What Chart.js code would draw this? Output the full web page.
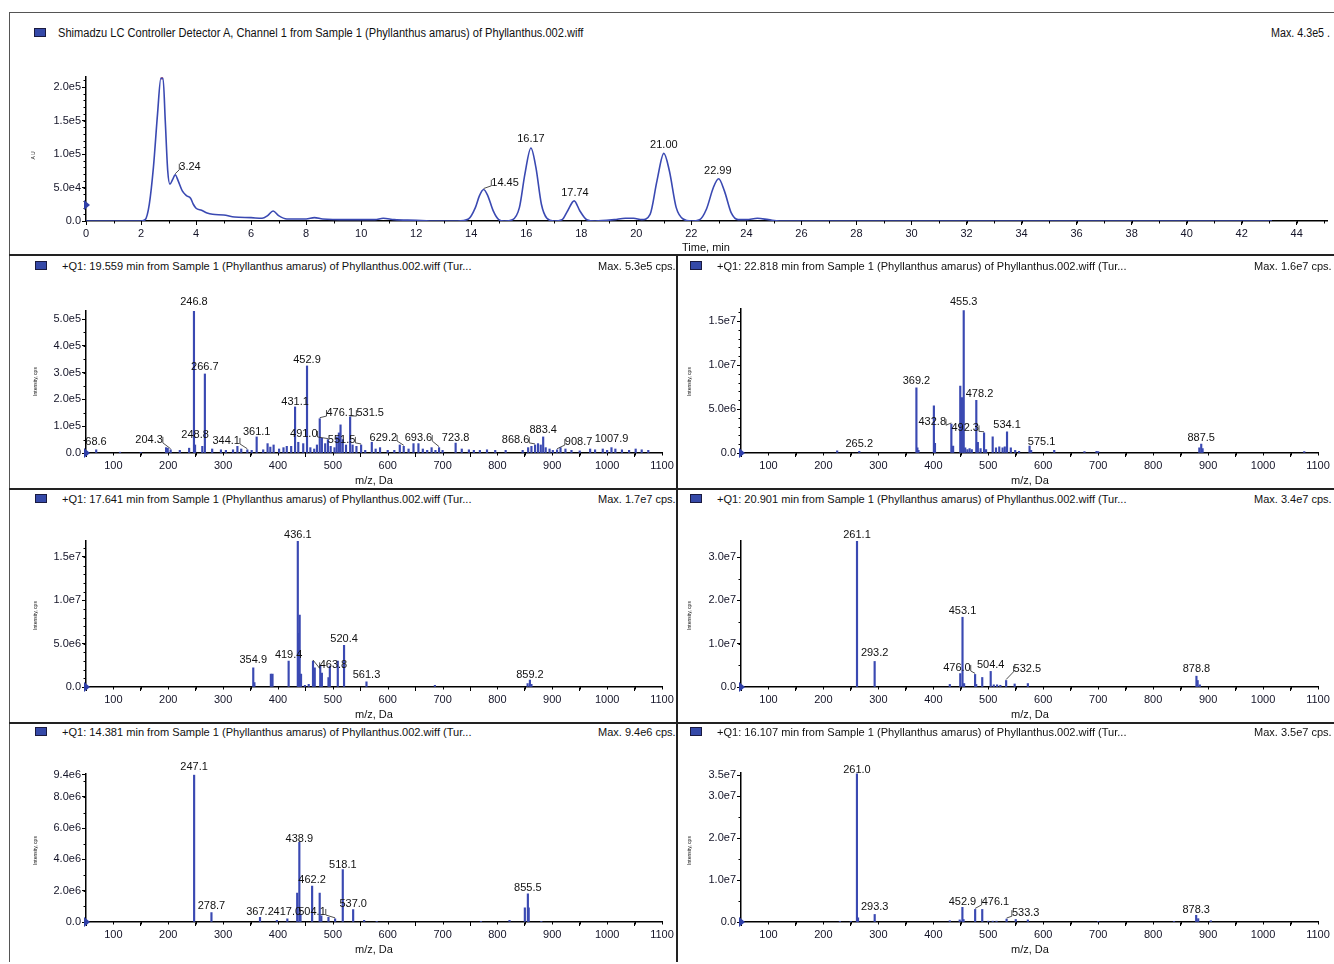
<!DOCTYPE html>
<html>
<head>
<meta charset="utf-8">
<script src="https://cdn.jsdelivr.net/npm/chart.js@4.4.0/dist/chart.umd.min.js"></script>
<style>
  body { margin: 0; background: #fff; }
  #fig { position: relative; width: 1334px; height: 964px; overflow: hidden; background: #fff;
         font-family: 'Liberation Sans', Arial, sans-serif; color: #111; }
  .ln { position: absolute; background: #333; }
  .sq { position: absolute; width: 10px; height: 7px; background: #3549a8; border: 1px solid #1a1a40; }
  .tx { position: absolute; white-space: nowrap; line-height: 1; }
  canvas { position: absolute; }
</style>
</head>
<body>
<div id="fig"></div>
<script>
// ---------- data ----------

// chromatogram trace (time in min, absorbance)
var chromTrace = [
  [0, 0], [2.0, 0], [2.15, 2e3], [2.3, 2.5e4], [2.45, 8e4], [2.6, 1.6e5], [2.72, 2.13e5], [2.8, 2.13e5],
  [2.88, 1.5e5], [2.97, 7.5e4], [3.05, 5.5e4], [3.15, 6.2e4], [3.24, 6.9e4], [3.35, 6.0e4], [3.5, 4.5e4],
  [3.65, 3.8e4], [3.8, 3.4e4], [3.9, 2.5e4], [4.0, 1.9e4], [4.2, 1.6e4], [4.4, 1.2e4], [4.6, 1.0e4],
  [5.0, 9e3], [5.4, 6e3], [6.0, 5e3], [6.4, 4e3], [6.6, 8e3], [6.8, 1.5e4], [7.0, 8e3], [7.3, 3e3],
  [8.0, 3e3], [8.3, 5e3], [8.6, 3e3], [9.5, 2e3], [10.5, 2e3], [10.8, 4e3], [11.2, 2e3], [12.0, 1e3],
  [12.5, 0], [13.5, 0], [13.9, 3e3], [14.15, 2.0e4], [14.3, 3.8e4], [14.45, 4.7e4], [14.6, 3.8e4],
  [14.8, 1.5e4], [15.0, 2e3], [15.2, 0], [15.5, 2e3], [15.75, 2.0e4], [15.95, 7.0e4], [16.17, 1.09e5],
  [16.35, 8.0e4], [16.55, 2.5e4], [16.75, 4e3], [17.0, 0], [17.3, 2e3], [17.5, 1.5e4], [17.74, 3.0e4],
  [17.95, 1.5e4], [18.2, 2e3], [18.5, 0], [19.2, 2e3], [19.6, 4e3], [19.9, 4e3], [20.2, 2e3],
  [20.5, 1.0e4], [20.75, 6.0e4], [21.0, 1.01e5], [21.2, 7.5e4], [21.45, 2.0e4], [21.7, 3e3], [22.0, 0],
  [22.3, 2e3], [22.55, 1.8e4], [22.8, 5.0e4], [22.99, 6.3e4], [23.2, 4.5e4], [23.45, 1.2e4], [23.7, 2e3],
  [24.0, 2e3], [24.4, 4e3], [24.8, 2e3], [25.2, 0], [41.7, 0], [43.1, 0]
];
var chromClipped = [[2.72, 2.13e5], [2.8, 2.13e5]];
// [peak time, label time, label height]
var chromLabels = [
  [3.24, 3.78, 8.1e4], [14.45, 15.23, 5.7e4], [16.17, 16.17, 1.22e5],
  [17.74, 17.77, 4.2e4], [21.00, 21.00, 1.13e5], [22.99, 22.96, 7.5e4]
];
var chromTimeTicks = [0, 2, 4, 6, 8, 10, 12, 14, 16, 18, 20, 22, 24, 26, 28, 30, 32, 34, 36, 38, 40, 42, 44];
var chromAuTicks = [0, 5e4, 1e5, 1.5e5, 2e5];
var chromAuLabels = ['0.0', '5.0e4', '1.0e5', '1.5e5', '2.0e5'];

var mzTicks = [100, 200, 300, 400, 500, 600, 700, 800, 900, 1000, 1100];
var mzTickLabels = ['100', '200', '300', '400', '500', '600', '700', '800', '900', '1000', '1100'];

// spectrum at 19.559 min  [m/z, cps]
var s19Peaks = [
  [68.6, 1.2e4], [112, 3e3], [150, 2e3], [196, 2.0e4], [199, 1.8e4], [204.3, 1.2e4], [221, 1.0e4], [238, 1.8e4],
  [246.8, 5.3e5], [248.8, 3.0e4], [262, 2.5e4], [266.7, 2.95e5], [280, 1.5e4], [296, 1.2e4], [305, 1.0e4],
  [318, 1.2e4], [326, 2.5e4], [333, 1.5e4], [344.1, 1.2e4], [352, 1.0e4], [361.1, 6.0e4], [373, 1.2e4],
  [381, 3.5e4], [386, 2.2e4], [392, 3.0e4], [402, 1.5e4], [410, 2.0e4], [416, 2.5e4], [424, 2.5e4],
  [431.1, 1.72e5], [437, 4.0e4], [446, 3.5e4], [452.9, 3.25e5], [459, 2.0e4], [466, 1.5e4], [471, 3.0e4],
  [476.1, 1.28e5], [480, 5.5e4], [486, 3.5e4], [491.0, 5.0e4], [496, 2.5e4], [503, 2.0e4], [507, 6.0e4],
  [511, 7.5e4], [514, 1.05e5], [518, 5.0e4], [524, 3.0e4], [531.5, 1.35e5], [536, 3.0e4], [543, 2.5e4],
  [551.5, 3.0e4], [559, 1.0e4], [571, 4.0e4], [578, 1.5e4], [586, 2.0e4], [600, 1.0e4], [612, 1.0e4],
  [622, 3.0e4], [629.2, 2.5e4], [638, 1.5e4], [647, 3.5e4], [656, 3.5e4], [664, 1.5e4], [672, 1.0e4],
  [680, 2.0e4], [687, 1.0e4], [693.6, 2.0e4], [700, 1.0e4], [723.8, 3.7e4], [735, 1.5e4], [748, 1.2e4],
  [757, 1.0e4], [768, 1.0e4], [781, 1.2e4], [796, 1.0e4], [815, 1.0e4], [846, 1.0e4], [856, 2.0e4],
  [862, 2.5e4], [868.6, 3.0e4], [874, 3.5e4], [879, 3.0e4], [883.4, 6.0e4], [888, 2.0e4], [895, 1.5e4],
  [901, 1.0e4], [908.7, 1.2e4], [915, 2.0e4], [924, 1.5e4], [935, 1.0e4], [950, 8e3], [969, 1.5e4],
  [978, 1.2e4], [992, 1.5e4], [1000, 1.0e4], [1007.9, 2.0e4], [1015, 1.5e4], [1027, 1.2e4], [1040, 1.0e4],
  [1052, 1.5e4], [1063, 1.2e4], [1075, 1.0e4]
];
// [peak m/z, label m/z, label height]
var s19Labels = [
  [68.6, 68.2, 4.1e4], [204.3, 165, 4.9e4], [246.8, 246.8, 5.63e5], [248.8, 248.8, 6.7e4],
  [266.7, 266.7, 3.2e5], [344.1, 305.5, 4.5e4], [361.1, 361.1, 7.8e4], [431.1, 431.1, 1.9e5],
  [452.9, 452.9, 3.47e5], [476.1, 513.5, 1.49e5], [491.0, 447, 7.1e4], [531.5, 568, 1.49e5],
  [551.5, 516, 4.9e4], [629.2, 592, 5.6e4], [693.6, 656, 5.6e4], [723.8, 723.8, 5.6e4],
  [868.6, 833, 4.9e4], [883.4, 883.4, 8.6e4], [908.7, 948, 4.1e4], [1007.9, 1007.9, 5.2e4]
];
var s19Ticks = [0, 1e5, 2e5, 3e5, 4e5, 5e5];
var s19TickLabels = ['0.0', '1.0e5', '2.0e5', '3.0e5', '4.0e5', '5.0e5'];

// spectrum at 22.818 min
var s22Peaks = [
  [225, 2.5e5], [265.2, 2e5], [369.2, 7.4e6], [371, 6e5], [373, 3e5], [401, 5.35e6], [403, 1.1e6],
  [432.8, 3.3e6], [436, 8e5], [449, 7.6e6], [452, 6.3e6], [455.3, 1.62e7], [458, 6e5], [462, 4e5],
  [466, 5e5], [470, 4e5], [478.2, 6.0e6], [481, 1.2e6], [486, 5e5], [492.3, 2.3e6], [496, 4e5],
  [508, 1.85e6], [514, 6e5], [520, 7e5], [526, 6e5], [530, 7e5], [534.1, 2.4e6], [541, 6e5], [549, 3e5],
  [556, 2e5], [575.1, 8e5], [578, 3e5], [620, 3e5], [675, 1.5e5], [697, 2e5], [700, 1.5e5], [884, 6e5],
  [887.5, 1.0e6], [890, 5e5], [1075, 1.5e5]
];
var s22Labels = [
  [265.2, 265.2, 1.0e6], [369.2, 369.2, 8.2e6], [432.8, 398, 3.5e6], [455.3, 455.3, 1.72e7],
  [478.2, 484, 6.7e6], [492.3, 458, 2.8e6], [534.1, 534.1, 3.2e6], [575.1, 597, 1.25e6], [887.5, 887.5, 1.7e6]
];
var s22Ticks = [0, 5e6, 1e7, 1.5e7];
var s22TickLabels = ['0.0', '5.0e6', '1.0e7', '1.5e7'];

// spectrum at 17.641 min
var s17Peaks = [
  [354.9, 2.2e6], [357, 5e5], [387, 1.5e6], [390, 1.5e6], [419.4, 3.0e6], [436.1, 1.68e7], [437.5, 6.2e6],
  [439.5, 8.3e6], [442, 1.5e6], [449, 2e5], [456, 3e5], [463.8, 3.0e6], [467, 2.2e6], [477, 2.5e6],
  [480, 1.6e6], [492, 1.1e6], [494.5, 2.4e6], [509, 3.0e6], [520.4, 4.8e6], [561.3, 6e5], [686, 2e5],
  [855, 4e5], [859.2, 8e5], [862, 3e5]
];
var s17Labels = [
  [354.9, 354.9, 3.1e6], [419.4, 419.4, 3.7e6], [436.1, 436.1, 1.75e7], [463.8, 501, 2.5e6],
  [520.4, 520.4, 5.5e6], [561.3, 561.3, 1.4e6], [859.2, 859.2, 1.4e6]
];
var s17Ticks = [0, 5e6, 1e7, 1.5e7];
var s17TickLabels = ['0.0', '5.0e6', '1.0e7', '1.5e7'];

// spectrum at 20.901 min
var s20Peaks = [
  [261.1, 3.37e7], [293.2, 5.9e6], [430, 6e5], [449, 3.1e6], [453.1, 1.61e7], [456, 8e5], [476.0, 2.9e6],
  [478, 6e5], [489, 2.2e6], [504.4, 3.6e6], [510, 5e5], [516, 5e5], [522, 4e5], [532.5, 1.5e6], [548, 7e5],
  [572, 8e5], [878.8, 2.5e6], [881, 1.5e6], [885, 5e5]
];
var s20Labels = [
  [261.1, 261.1, 3.5e7], [293.2, 293.2, 7.9e6], [453.1, 453.1, 1.75e7], [476.0, 443, 4.4e6],
  [504.4, 504.4, 5.1e6], [532.5, 571, 4.2e6], [878.8, 878.8, 4.2e6]
];
var s20Ticks = [0, 1e7, 2e7, 3e7];
var s20TickLabels = ['0.0', '1.0e7', '2.0e7', '3.0e7'];

// spectrum at 14.381 min
var s14Peaks = [
  [247.1, 9.4e6], [278.7, 6e5], [367.2, 3e5], [398, 1e5], [417.0, 2e5], [435, 1.85e6], [438.9, 5.1e6],
  [441, 5e5], [462.2, 2.3e6], [476, 1.85e6], [479, 4e5], [492, 3e5], [504.1, 2e5], [518.1, 3.35e6],
  [537.0, 8e5], [557, 1e5], [580, 5e4], [770, 5e4], [822, 1e5], [850, 9e5], [855.5, 1.8e6], [857, 9e5],
  [880, 5e4]
];
var s14Labels = [
  [247.1, 247.1, 9.9e6], [278.7, 278.7, 1.0e6], [367.2, 367.2, 6.4e5], [417.0, 417.0, 6.4e5],
  [438.9, 438.9, 5.3e6], [462.2, 462.2, 2.7e6], [504.1, 462, 6.4e5], [518.1, 518.1, 3.65e6],
  [537.0, 537.0, 1.15e6], [855.5, 855.5, 2.2e6]
];
var s14Ticks = [0, 2e6, 4e6, 6e6, 8e6, 9.4e6];
var s14TickLabels = ['0.0', '2.0e6', '4.0e6', '6.0e6', '8.0e6', '9.4e6'];

// spectrum at 16.107 min
var s16Peaks = [
  [230, 1.5e5], [250, 1.5e5], [261.0, 3.53e7], [263, 1.0e6], [293.3, 1.8e6], [430, 3e5], [448, 5e5],
  [452.9, 3.5e6], [455, 6e5], [476.1, 3.0e6], [489, 3.0e6], [500, 2e5], [508, 2e5], [515, 2e5],
  [533.3, 7e5], [550, 6e5], [572, 5e5], [700, 1e5], [838, 1e5], [878.3, 1.6e6], [882, 8e5], [905, 3e5]
];
var s16Labels = [
  [261.0, 261.0, 3.62e7], [293.3, 293.3, 3.6e6], [452.9, 452.9, 4.8e6], [476.1, 513, 4.8e6],
  [533.3, 568, 2.1e6], [878.3, 878.3, 2.9e6]
];
var s16Ticks = [0, 1e7, 2e7, 3e7, 3.5e7];
var s16TickLabels = ['0.0', '1.0e7', '2.0e7', '3.0e7', '3.5e7'];

var chromTitle = 'Shimadzu LC Controller Detector A, Channel 1 from Sample 1 (Phyllanthus amarus) of Phyllanthus.002.wiff';
var chromMax = 'Max. 4.3e5 .';
var panelTitles = [
  '+Q1: 19.559 min from Sample 1 (Phyllanthus amarus) of Phyllanthus.002.wiff (Tur...',
  '+Q1: 22.818 min from Sample 1 (Phyllanthus amarus) of Phyllanthus.002.wiff (Tur...',
  '+Q1: 17.641 min from Sample 1 (Phyllanthus amarus) of Phyllanthus.002.wiff (Tur...',
  '+Q1: 20.901 min from Sample 1 (Phyllanthus amarus) of Phyllanthus.002.wiff (Tur...',
  '+Q1: 14.381 min from Sample 1 (Phyllanthus amarus) of Phyllanthus.002.wiff (Tur...',
  '+Q1: 16.107 min from Sample 1 (Phyllanthus amarus) of Phyllanthus.002.wiff (Tur...'
];
var panelMax = ['Max. 5.3e5 cps.', 'Max. 1.6e7 cps.', 'Max. 1.7e7 cps.', 'Max. 3.4e7 cps.', 'Max. 9.4e6 cps.', 'Max. 3.5e7 cps.'];

// ---------- drawing ----------

var FONT = "'Liberation Sans', Arial, sans-serif";
var INK = '#141428';
var BLUE = '#3a49b2';
var fig = document.getElementById('fig');

function rect(x, y, w, h, cls) {
  var d = document.createElement('div');
  d.className = cls || 'ln';
  d.style.left = x + 'px'; d.style.top = y + 'px';
  if (w != null) d.style.width = w + 'px';
  if (h != null) d.style.height = h + 'px';
  fig.appendChild(d);
  return d;
}

// text centred vertically on y; optionally squeezed to a width
function text(str, x, y, size, align, fitW, rot) {
  var d = document.createElement('div');
  d.className = 'tx';
  d.textContent = str;
  d.style.fontSize = size + 'px';
  fig.appendChild(d);
  var w = d.offsetWidth, h = d.offsetHeight;
  var left = align === 'right' ? x - w : (align === 'center' ? x - w / 2 : x);
  d.style.left = left + 'px';
  d.style.top = (y - h / 2) + 'px';
  d.style.transformOrigin = align === 'right' ? 'right center' : (align === 'center' ? 'center center' : 'left center');
  var tr = '';
  if (rot) tr += 'rotate(' + rot + 'deg) ';
  if (fitW) tr += 'scaleX(' + (fitW / w) + ')';
  if (tr) d.style.transform = tr;
  return d;
}

var decor = {
  id: 'decor',
  afterDraw: function (chart, args, o) {
    var ctx = chart.ctx, xs = chart.scales.x, ys = chart.scales.y, a = chart.chartArea;
    ctx.save();
    // minor ticks
    ctx.strokeStyle = '#000';
    ctx.lineWidth = 1;
    ctx.beginPath();
    for (var v = o.xMinorFrom; v <= xs.max + 1e-6; v += o.xMinor) {
      var px = Math.round(xs.getPixelForValue(v)) + 0.5;
      ctx.moveTo(px, a.bottom); ctx.lineTo(px, a.bottom + 2.5);
    }
    for (var w = 0; w <= ys.max + 1e-6; w += o.yMinor) {
      var py = Math.round(ys.getPixelForValue(w)) + 0.5;
      ctx.moveTo(a.left, py); ctx.lineTo(a.left - 2.5, py);
    }
    ctx.stroke();

    // little retention marker at the axis
    var my = ys.getPixelForValue(o.markerAt || 0);
    ctx.fillStyle = '#2f3fa8';
    ctx.beginPath();
    ctx.moveTo(a.left - 2, my - 5); ctx.lineTo(a.left + 4, my); ctx.lineTo(a.left - 2, my + 5);
    ctx.closePath(); ctx.fill();

    // peak labels
    ctx.font = '11px ' + FONT;
    ctx.fillStyle = '#111';
    ctx.textAlign = 'center';
    ctx.textBaseline = 'middle';
    ctx.strokeStyle = '#222';
    ctx.lineWidth = 0.8;
    var pts = chart.data.datasets[0].data;
    o.labels.forEach(function (l) {
      var txt = l[0].toFixed(o.digits);
      var lx = xs.getPixelForValue(l[1]), ly = ys.getPixelForValue(l[2]);
      ctx.fillText(txt, lx, ly);
      var best = pts[0];
      pts.forEach(function (p) { if (Math.abs(p.x - l[0]) < Math.abs(best.x - l[0])) best = p; });
      var bx = xs.getPixelForValue(l[0]), by = ys.getPixelForValue(best.y);
      var hw = ctx.measureText(txt).width / 2;
      if (Math.abs(lx - bx) > hw) {
        var ex = lx > bx ? lx - hw : lx + hw;
        ctx.beginPath();
        ctx.moveTo(ex, ly - 3);
        ctx.lineTo(ex, ly + 3);
        ctx.lineTo(bx, by - 1);
        ctx.stroke();
      }
    });
    ctx.restore();
  }
};

function xAxis(min, max, ticks, labels, h) {
  return {
    type: 'linear', min: min, max: max, offset: false,
    grid: { display: true, drawOnChartArea: false, drawTicks: true, tickLength: 4, color: '#000', tickColor: '#000', tickWidth: 1 },
    border: { display: true, color: '#000', width: 1.5 },
    ticks: {
      autoSkip: false, maxRotation: 0, padding: 2, color: INK, font: { family: FONT, size: 11 },
      callback: function (v) { var i = ticks.indexOf(v); return i < 0 ? '' : labels[i]; }
    },
    afterBuildTicks: function (s) { s.ticks = ticks.map(function (v) { return { value: v }; }); },
    afterFit: function (s) { s.height = h; }
  };
}

function yAxis(max, ticks, labels, w) {
  return {
    type: 'linear', min: 0, max: max,
    grid: { display: true, drawOnChartArea: false, drawTicks: true, tickLength: 4, color: '#000', tickColor: '#000', tickWidth: 1 },
    border: { display: true, color: '#000', width: 1.5 },
    ticks: {
      autoSkip: false, padding: 1, color: INK, font: { family: FONT, size: 11 },
      callback: function (v) { var i = ticks.indexOf(v); return i < 0 ? '' : labels[i]; }
    },
    afterBuildTicks: function (s) { s.ticks = ticks.map(function (v) { return { value: v }; }); },
    afterFit: function (s) { s.width = w; }
  };
}

function canvasAt(L, T, W, H) {
  var c = document.createElement('canvas');
  c.width = W; c.height = H;
  c.style.left = L + 'px'; c.style.top = T + 'px';
  c.style.width = W + 'px'; c.style.height = H + 'px';
  fig.appendChild(c);
  return c;
}

function toXY(arr) { return arr.map(function (p) { return { x: p[0], y: p[1] }; }); }

// g: {L, T, W, H, axisX, plotTop, base, right}
function spectrum(g, peaks, labels, yMax, yTicks, yTickLabels, yMinor) {
  var c = canvasAt(g.L, g.T, g.W, g.H);
  return new Chart(c.getContext('2d'), {
    type: 'bar',
    data: { datasets: [{ data: toXY(peaks), backgroundColor: BLUE, borderWidth: 0, barThickness: 1.5 }] },
    options: {
      responsive: false, animation: false,
      layout: { padding: { left: 0, top: g.plotTop - g.T, right: g.L + g.W - g.right, bottom: 0 } },
      plugins: {
        legend: { display: false }, tooltip: { enabled: false },
        decor: { labels: labels, digits: 1, xMinorFrom: 50, xMinor: 50, yMinor: yMinor, markerAt: 0 }
      },
      scales: {
        x: xAxis(50, 1100, mzTicks, mzTickLabels, g.T + g.H - g.base),
        y: yAxis(yMax, yTicks, yTickLabels, g.axisX - g.L)
      }
    },
    plugins: [decor]
  });
}

// frame
rect(9, 12, 1325, 1).style.background = '#555';
rect(9, 12, 1, 950).style.background = '#555';
rect(9, 254, 1325, 2).style.background = '#222';
rect(9, 488, 1325, 2).style.background = '#222';
rect(9, 722, 1325, 2).style.background = '#222';
rect(676, 254, 2, 708).style.background = '#222';

// chromatogram
var chromCanvas = canvasAt(10, 40, 1323, 215);
new Chart(chromCanvas.getContext('2d'), {
  type: 'line',
  data: {
    datasets: [
      { data: toXY(chromTrace), borderColor: BLUE, borderWidth: 1.6, pointRadius: 0, cubicInterpolationMode: 'monotone', fill: false },
      { data: toXY(chromClipped), borderColor: '#e02a2a', borderWidth: 2, pointRadius: 0, fill: false }
    ]
  },
  options: {
    responsive: false, animation: false,
    layout: { padding: { left: 0, top: 37, right: 6, bottom: 0 } },
    plugins: {
      legend: { display: false }, tooltip: { enabled: false },
      decor: { labels: chromLabels, digits: 2, xMinorFrom: 1, xMinor: 1, yMinor: 1e4, markerAt: 2.4e4 }
    },
    scales: {
      x: xAxis(0, 45.1, chromTimeTicks, chromTimeTicks.map(String), 34),
      y: yAxis(2.15e5, chromAuTicks, chromAuLabels, 76)
    }
  },
  plugins: [decor]
});

// spectra, left column then right column, three rows
var rowsTop = [282, 516, 750];
var rowsBase = [453, 687, 922];
var leftG = function (r, top) { return { L: 10, T: rowsTop[r], W: 667, H: (r === 2 ? 208 : 207), axisX: 86, plotTop: top, base: rowsBase[r], right: 662 }; };
var rightG = function (r, top) { return { L: 678, T: rowsTop[r], W: 655, H: (r === 2 ? 208 : 207), axisX: 741, plotTop: top, base: rowsBase[r], right: 1318 }; };

spectrum(leftG(0, 311), s19Peaks, s19Labels, 5.3e5, s19Ticks, s19TickLabels, 5e4);
spectrum(rightG(0, 308.7), s22Peaks, s22Labels, 1.64e7, s22Ticks, s22TickLabels, 1e6);
spectrum(leftG(1, 540.5), s17Peaks, s17Labels, 1.69e7, s17Ticks, s17TickLabels, 1e6);
spectrum(rightG(1, 541), s20Peaks, s20Labels, 3.37e7, s20Ticks, s20TickLabels, 5e6);
spectrum(leftG(2, 774.2), s14Peaks, s14Labels, 9.45e6, s14Ticks, s14TickLabels, 1e6);
spectrum(rightG(2, 773), s16Peaks, s16Labels, 3.55e7, s16Ticks, s16TickLabels, 5e6);

// headers and axis titles
rect(34, 28, null, null, 'sq');
text(chromTitle, 58, 33, 12, 'left', 525);
text(chromMax, 1330, 33, 12, 'right', 59);
text('Time, min', 706, 247, 11, 'center');
text('A U', 33, 155, 5, 'center', null, -90);

var headerY = [266, 499, 732];
for (var r = 0; r < 3; r++) {
  var y = headerY[r];
  rect(35, y - 5, null, null, 'sq');
  rect(690, y - 5, null, null, 'sq');
  text(panelTitles[r * 2], 62, y, 11, 'left', 410);
  text(panelMax[r * 2], 676, y, 11, 'right', 78);
  text(panelTitles[r * 2 + 1], 717, y, 11, 'left', 410);
  text(panelMax[r * 2 + 1], 1332, y, 11, 'right', 78);
  text('m/z, Da', 374, rowsBase[r] + 27, 11, 'center');
  text('m/z, Da', 1030, rowsBase[r] + 27, 11, 'center');
  text('Intensity, cps', 35, rowsBase[r] - 72, 5, 'center', null, -90);
  text('Intensity, cps', 689, rowsBase[r] - 72, 5, 'center', null, -90);
}
</script>
</body>
</html>
